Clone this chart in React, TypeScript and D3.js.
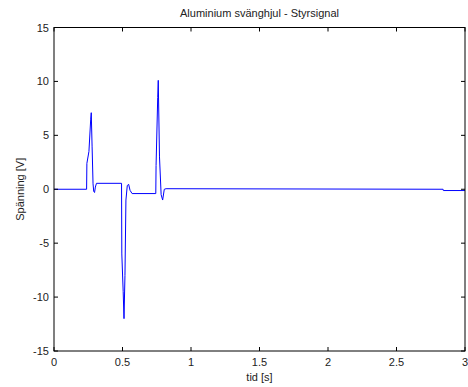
import React from "react";
import * as d3 from "d3";

const title = "Aluminium svänghjul - Styrsignal";
const xLabel = "tid [s]";
const yLabel = "Spänning [V]";
const xTicks = [0, 0.5, 1, 1.5, 2, 2.5, 3];
const yTicks = [-15, -10, -5, 0, 5, 10, 15];

const time = [
  0, 0.238, 0.24, 0.255, 0.268, 0.272, 0.278, 0.285, 0.29, 0.296, 0.302, 0.31,
  0.493, 0.495, 0.505, 0.511, 0.518, 0.525, 0.535, 0.545, 0.555, 0.57,
  0.743, 0.745, 0.757, 0.761, 0.77, 0.782, 0.793, 0.805, 0.818,
  2.84, 2.842, 3.0,
];
const voltage = [
  0, 0, 2.4, 3.5, 6.5, 7.1, 4.0, 0.5, -0.2, -0.3, 0.2, 0.55,
  0.55, -6, -9.5, -12, -8, -1, 0.35, 0.45, -0.1, -0.4,
  -0.4, 2.2, 8.5, 10.1, 3, -0.5, -1.0, 0, 0.05,
  0.0, -0.12, -0.12,
];

const W = 468;
const H = 387;
const left = 54;
const right = 465;
const top = 27.5;
const bottom = 351;

export default function App() {
  const x = d3.scaleLinear().domain([0, 3]).range([left, right]);
  const y = d3.scaleLinear().domain([-15, 15]).range([bottom, top]);
  const pts = time.map((t, i) => [t, voltage[i]] as [number, number]);
  const line = d3
    .line<[number, number]>()
    .x((d) => x(d[0]))
    .y((d) => y(d[1]));
  const font = "'Liberation Sans', Arial, Helvetica, sans-serif";
  const tl = 4;
  return (
    <svg
      width={W}
      height={H}
      style={{ position: "absolute", left: 0, top: 0, background: "#fff" }}
      fontFamily={font}
    >
      <rect x={0} y={0} width={W} height={H} fill="#fff" />
      <path d={line(pts) || ""} fill="none" stroke="#0000ff" strokeWidth={1} />
      {xTicks.map((t) => (
        <g key={"x" + t}>
          <line x1={x(t)} x2={x(t)} y1={bottom} y2={bottom - tl} stroke="#000" />
          <line x1={x(t)} x2={x(t)} y1={top} y2={top + tl} stroke="#000" />
          <text
            x={x(t)}
            y={366}
            textAnchor="middle"
            fontSize={11}
            fill="#222"
          >
            {String(t)}
          </text>
        </g>
      ))}
      {yTicks.map((v) => (
        <g key={"y" + v}>
          <line x1={left} x2={left + tl} y1={y(v)} y2={y(v)} stroke="#000" />
          <line x1={right} x2={right - tl} y1={y(v)} y2={y(v)} stroke="#000" />
          <text
            x={49}
            y={y(v) + 4}
            textAnchor="end"
            fontSize={11}
            fill="#222"
          >
            {String(v)}
          </text>
        </g>
      ))}
      <rect
        x={left}
        y={top}
        width={right - left}
        height={bottom - top}
        fill="none"
        stroke="#000"
        strokeWidth={1}
      />
      <text x={(left + right) / 2} y={17} textAnchor="middle" fontSize={11} fill="#222">
        {title}
      </text>
      <text x={(left + right) / 2} y={381} textAnchor="middle" fontSize={11} fill="#222">
        {xLabel}
      </text>
      <text
        transform={`translate(24, ${(top + bottom) / 2}) rotate(-90)`}
        textAnchor="middle"
        fontSize={11}
        fill="#222"
      >
        {yLabel}
      </text>
    </svg>
  );
}
